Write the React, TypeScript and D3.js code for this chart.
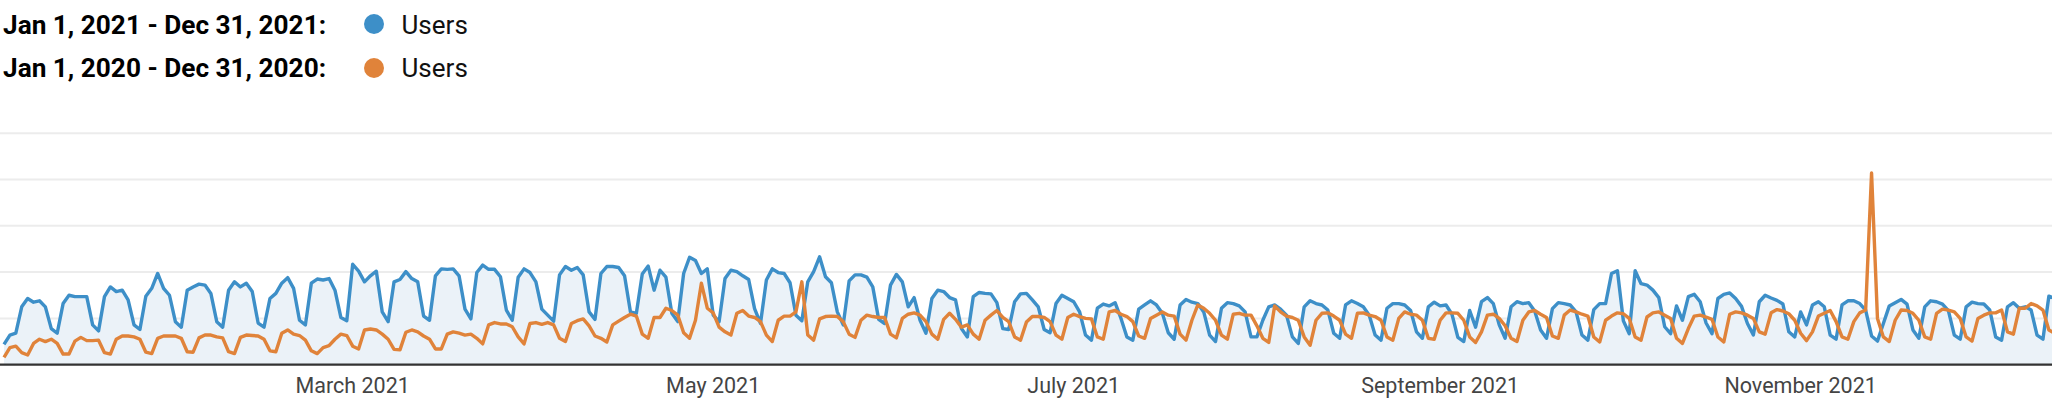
import React from "react";
import * as d3 from "d3";

const START_DATE = "2021-01-01";
const END_DATE = "2021-12-31";

const legendRanges = ["Jan 1, 2021 - Dec 31, 2021:", "Jan 1, 2020 - Dec 31, 2020:"];
const legendMetric = ["Users", "Users"];

const tickMonths = ["2021-03-01", "2021-05-01", "2021-07-01", "2021-09-01", "2021-11-01"];
const gridValues = [100, 200, 300, 400, 500];

// daily users, current period (starts Jan 1, 2021)
const users2021 = [
  44, 64, 68, 125, 143, 135, 138,
  125, 78, 68, 132, 150, 147, 147,
  147, 86, 73, 147, 168, 158, 161,
  140, 86, 76, 148, 165, 197, 165,
  150, 93, 81, 161, 168, 174, 172,
  154, 93, 81, 161, 179, 168, 176,
  158, 90, 81, 143, 154, 176, 188,
  165, 96, 86, 176, 185, 183, 186,
  161, 102, 95, 217, 202, 179, 192,
  202, 114, 93, 179, 184, 201, 186,
  179, 105, 96, 192, 207, 206, 207,
  192, 120, 99, 199, 215, 206, 206,
  190, 118, 96, 189, 207, 199, 179,
  120, 107, 94, 194, 212, 204, 210,
  194, 114, 98, 197, 212, 212, 210,
  192, 114, 111, 196, 213, 161, 204,
  189, 111, 93, 197, 232, 225, 197,
  207, 107, 93, 186, 204, 201, 192,
  184, 121, 89, 183, 207, 199, 197,
  177, 107, 95, 179, 201, 233, 190,
  177, 114, 86, 181, 194, 194, 189,
  168, 98, 89, 172, 195, 179, 125,
  145, 96, 68, 143, 161, 158, 145,
  140, 78, 60, 147, 156, 154, 153,
  134, 78, 76, 136, 153, 154, 140,
  125, 76, 69, 132, 150, 143, 136,
  114, 64, 53, 122, 131, 127, 134,
  100, 60, 53, 120, 129, 138, 129,
  111, 69, 55, 129, 141, 135, 132,
  114, 64, 50, 122, 134, 132, 127,
  114, 60, 60, 96, 125, 129, 120,
  107, 60, 46, 125, 138, 132, 129,
  118, 68, 57, 129, 138, 132, 125,
  107, 64, 53, 122, 132, 132, 129,
  117, 71, 57, 125, 135, 127, 129,
  109, 59, 50, 117, 81, 136, 145,
  132, 86, 57, 125, 136, 132, 134,
  116, 75, 57, 121, 134, 132, 129,
  114, 64, 53, 119, 132, 132, 197,
  203, 95, 67, 203, 175, 172, 161,
  145, 82, 67, 127, 96, 147, 152,
  136, 90, 67, 143, 152, 155, 143,
  126, 89, 64, 136, 150, 144, 139,
  131, 71, 60, 114, 86, 129, 136,
  125, 64, 55, 129, 138, 138, 132,
  118, 62, 51, 89, 127, 134, 141,
  131, 75, 57, 125, 138, 136, 131,
  117, 64, 55, 125, 135, 132, 131,
  118, 60, 53, 125, 134, 122, 125,
  118, 64, 55, 148, 143,
];

// daily users, comparison period (aligned to the same calendar dates in 2020)
const users2020 = [
  16, 37, 40, 26, 21, 46, 55,
  50, 55, 46, 23, 23, 51, 59,
  52, 52, 53, 26, 23, 55, 62,
  62, 60, 55, 27, 24, 57, 62,
  62, 62, 57, 28, 27, 58, 64,
  64, 60, 58, 28, 24, 59, 64,
  63, 62, 55, 30, 28, 68, 75,
  66, 63, 53, 30, 24, 37, 41,
  55, 66, 63, 40, 34, 75, 77,
  75, 66, 55, 33, 32, 70, 75,
  71, 62, 55, 34, 34, 66, 71,
  68, 64, 66, 57, 45, 86, 91,
  88, 88, 82, 60, 45, 89, 91,
  87, 91, 86, 57, 50, 89, 95,
  99, 84, 62, 57, 49, 86, 94,
  102, 109, 105, 66, 57, 102, 102,
  122, 117, 107, 69, 57, 96, 176,
  122, 112, 81, 71, 64, 111, 117,
  105, 102, 93, 64, 50, 96, 105,
  105, 114, 179, 64, 53, 99, 104,
  105, 104, 93, 66, 59, 96, 107,
  104, 102, 102, 66, 58, 100, 109,
  112, 107, 93, 66, 55, 98, 111,
  98, 81, 86, 66, 55, 96, 107,
  117, 102, 93, 60, 53, 92, 104,
  104, 102, 93, 64, 55, 102, 109,
  104, 100, 99, 60, 55, 114, 117,
  109, 104, 93, 62, 57, 100, 107,
  114, 107, 105, 66, 53, 96, 129,
  122, 111, 96, 64, 55, 109, 111,
  107, 107, 84, 57, 48, 127, 114,
  105, 102, 96, 60, 42, 96, 111,
  112, 105, 96, 66, 57, 111, 112,
  107, 104, 96, 60, 53, 100, 114,
  109, 107, 96, 57, 55, 96, 112,
  112, 111, 96, 60, 48, 71, 107,
  109, 100, 84, 57, 50, 96, 114,
  117, 109, 102, 62, 57, 107, 118,
  114, 109, 105, 60, 49, 96, 105,
  112, 110, 100, 60, 53, 103, 112,
  114, 107, 100, 57, 46, 78, 105,
  107, 103, 98, 60, 49, 109, 114,
  112, 107, 100, 71, 66, 112, 119,
  116, 110, 96, 68, 52, 71, 105,
  111, 117, 93, 60, 55, 93, 112,
  118, 414, 100, 60, 50, 96, 118,
  117, 111, 96, 60, 55, 111, 120,
  118, 114, 100, 60, 51, 100, 107,
  112, 112, 118, 71, 66, 122, 122,
  132, 127, 118, 75, 68,
];

const W = 2052;
const H = 402;
const BLUE = "#3d8fc8";
const ORANGE = "#e0833a";
const FILL = "#ebf2f8";
const FONT = "Roboto, 'Noto Sans', Arial, sans-serif";

export default function App() {
  const parse = d3.utcParse("%Y-%m-%d");
  const start = parse(START_DATE) as Date;
  const end = parse(END_DATE) as Date;
  const x = d3
    .scaleUtc()
    .domain([start, end])
    .range([4, 4 + 364 * 5.91]);
  const y = d3.scaleLinear().domain([0, 500]).range([364.7, 133.2]);

  const dates = users2021.map((_, i) => d3.utcDay.offset(start, i));
  const s21 = users2021.map((v, i) => ({ date: dates[i], v }));
  const s20 = users2020.map((v, i) => ({ date: dates[i], v }));

  const line = d3
    .line<{ date: Date; v: number }>()
    .x((d) => x(d.date))
    .y((d) => y(d.v));
  const area = d3
    .area<{ date: Date; v: number }>()
    .x((d) => x(d.date))
    .y0(y(0))
    .y1((d) => y(d.v));

  const fmt = d3.utcFormat("%B %Y");

  return (
    <svg
      width={W}
      height={H}
      style={{ position: "absolute", left: 0, top: 0, background: "#fff", fontFamily: FONT }}
    >
      {/* legend */}
      {legendRanges.map((label, i) => (
        <g key={label}>
          <text x={3} y={33.5 + i * 43.5} fontSize={26.2} fontWeight={700} fill="#000">
            {label}
          </text>
          <circle cx={374} cy={24} r={10} transform={`translate(0, ${i * 44})`} fill={i === 0 ? BLUE : ORANGE} />
          <text x={401.5} y={33.5 + i * 43.5} fontSize={26} fill="#111">
            {legendMetric[i]}
          </text>
        </g>
      ))}

      {/* grid */}
      {gridValues.map((g) => (
        <line key={g} x1={0} x2={W} y1={y(g)} y2={y(g)} stroke="#ececec" strokeWidth={2} />
      ))}

      <path d={area(s21) || ""} fill={FILL} />
      <path
        d={line(s21) || ""}
        fill="none"
        stroke={BLUE}
        strokeWidth={3.4}
        strokeLinejoin="round"
      />
      <path
        d={line(s20) || ""}
        fill="none"
        stroke={ORANGE}
        strokeWidth={3.4}
        strokeLinejoin="round"
      />

      {/* baseline */}
      <line x1={0} x2={W} y1={y(0)} y2={y(0)} stroke="#333" strokeWidth={2.2} />

      {/* x labels */}
      {tickMonths.map((m) => {
        const d = parse(m) as Date;
        return (
          <text
            key={m}
            x={x(d)}
            y={393}
            textAnchor="middle"
            fontSize={21.5}
            fill="#444"
          >
            {fmt(d)}
          </text>
        );
      })}
    </svg>
  );
}
